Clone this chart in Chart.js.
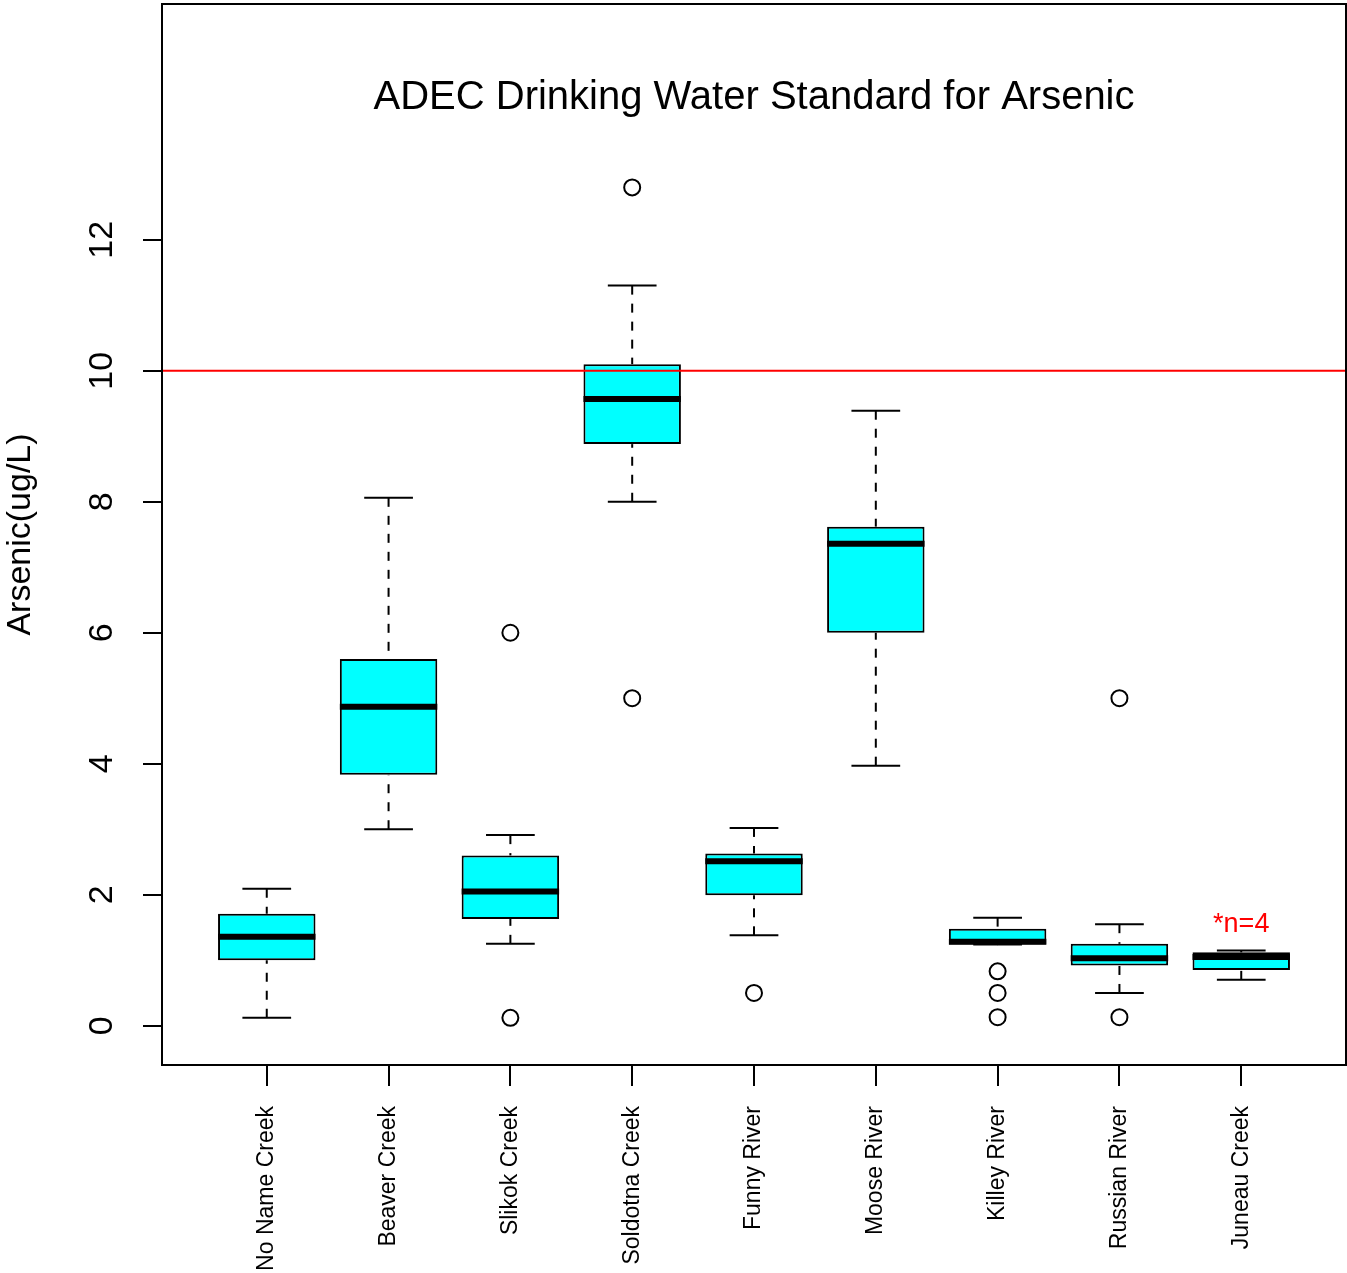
<!DOCTYPE html>
<html>
<head>
<meta charset="utf-8">
<title>ADEC Drinking Water Standard for Arsenic</title>
<script src="https://cdn.jsdelivr.net/npm/chart.js@4.4.0/dist/chart.umd.min.js"></script>
<style>
  html, body { margin: 0; padding: 0; background: #fff; }
  #wrap { width: 1347px; height: 1273px; }
</style>
</head>
<body>
<div id="wrap"><canvas id="boxChart" width="1347" height="1273"></canvas></div>
<script>
// sites, left to right
const sites = ['No Name Creek', 'Beaver Creek', 'Slikok Creek', 'Soldotna Creek', 'Funny River',
               'Moose River', 'Killey River', 'Russian River', 'Juneau Creek'];

// five-number summaries (ug/L)
const lowerWhisker = [0.12, 3.00, 1.25, 8.00, 1.38, 3.97, 1.24, 0.50, 0.70];
const q1           = [1.00, 3.83, 1.63, 8.88, 1.99, 6.00, 1.24, 0.92, 0.85];
const medians      = [1.36, 4.87, 2.05, 9.57, 2.51, 7.36, 1.28, 1.03, 1.05];
const q3           = [1.71, 5.60, 2.60, 10.10, 2.63, 7.62, 1.48, 1.25, 1.12];
const upperWhisker = [2.09, 8.06, 2.91, 11.30, 3.02, 9.39, 1.65, 1.55, 1.15];
const outliers     = [[], [], [0.12, 6.0], [12.8, 5.0], [0.5], [], [0.83, 0.5, 0.13], [0.13, 5.0], []];

const yTicks = [0, 2, 4, 6, 8, 10, 12];
const standard = 10;           // ADEC limit
const noteText = '*n=4';
const noteSite = 9;            // Juneau Creek

const FONT = "'Liberation Sans', Arial, Helvetica, sans-serif";
Chart.defaults.font.family = FONT;
Chart.defaults.color = '#000';

// R style axis ranges: x 0.5..9.5, y 0..15, each padded by 4%
const xMin = 0.14, xMax = 9.86;
const yMin = -0.6, yMax = 15.6;

const outlierPoints = [];
outliers.forEach((vals, i) => vals.forEach(v => outlierPoints.push({ x: i + 1, y: v })));

const boxplotExtras = {
    id: 'boxplotExtras',
    afterDatasetsDraw(chart) {
        const { ctx, scales: { x, y } } = chart;
        const boxes = chart.getDatasetMeta(2).data;
        ctx.save();
        ctx.strokeStyle = '#000';
        sites.forEach((site, i) => {
            const cx = x.getPixelForValue(i + 1);
            const capL = x.getPixelForValue(i + 1 - 0.2);
            const capR = x.getPixelForValue(i + 1 + 0.2);

            // dashed whiskers, from the whisker end to the box
            ctx.lineWidth = 2;
            ctx.setLineDash([9, 9]);
            [[lowerWhisker[i], q1[i]], [upperWhisker[i], q3[i]]].forEach(([from, to]) => {
                ctx.beginPath();
                ctx.moveTo(cx, y.getPixelForValue(from));
                ctx.lineTo(cx, y.getPixelForValue(to));
                ctx.stroke();
            });
            ctx.setLineDash([]);

            // staples
            [lowerWhisker[i], upperWhisker[i]].forEach(v => {
                const py = y.getPixelForValue(v);
                ctx.beginPath();
                ctx.moveTo(capL, py);
                ctx.lineTo(capR, py);
                ctx.stroke();
            });

            // median
            const bar = boxes[i];
            const my = y.getPixelForValue(medians[i]);
            ctx.lineWidth = 6;
            ctx.beginPath();
            ctx.moveTo(bar.x - bar.width / 2, my);
            ctx.lineTo(bar.x + bar.width / 2, my);
            ctx.stroke();
        });
        ctx.restore();
    },
    afterDraw(chart) {
        const { ctx, chartArea: a, scales: { x, y } } = chart;
        ctx.save();
        // plot frame
        ctx.strokeStyle = '#000';
        ctx.lineWidth = 2;
        ctx.strokeRect(a.left, a.top, a.right - a.left, a.bottom - a.top);

        // title inside the frame
        ctx.fillStyle = '#000';
        ctx.font = '40px ' + FONT;
        ctx.textAlign = 'center';
        ctx.textBaseline = 'middle';
        ctx.fillText('ADEC Drinking Water Standard for Arsenic', (a.left + a.right) / 2, y.getPixelForValue(14.17));

        // sample size note
        ctx.fillStyle = '#ff0000';
        ctx.font = '27px ' + FONT;
        ctx.fillText(noteText, x.getPixelForValue(noteSite), y.getPixelForValue(1.55));
        ctx.restore();
    }
};

new Chart(document.getElementById('boxChart'), {
    type: 'bar',
    data: {
        datasets: [
            {
                type: 'line',
                label: 'Standard',
                data: [{ x: xMin, y: standard }, { x: xMax, y: standard }],
                borderColor: '#ff0000',
                borderWidth: 2,
                pointRadius: 0,
                order: 0
            },
            {
                type: 'scatter',
                label: 'Outliers',
                data: outlierPoints,
                pointRadius: 8,
                pointBorderWidth: 2,
                pointBorderColor: '#000',
                pointBackgroundColor: 'rgba(0,0,0,0)',
                order: 1
            },
            {
                type: 'bar',
                label: 'IQR',
                data: sites.map((s, i) => ({ x: i + 1, y: [q1[i], q3[i]] })),
                backgroundColor: '#00ffff',
                borderColor: '#000',
                borderWidth: 2,
                borderSkipped: false,
                categoryPercentage: 0.8,
                barPercentage: 1.0,
                order: 2
            }
        ]
    },
    plugins: [boxplotExtras],
    options: {
        responsive: false,
        animation: false,
        events: [],
        layout: { autoPadding: false, padding: { top: 4, right: 1, left: 0, bottom: 0 } },
        plugins: {
            legend: { display: false },
            tooltip: { enabled: false }
        },
        scales: {
            x: {
                type: 'linear',
                min: xMin,
                max: xMax,
                offset: false,
                afterBuildTicks: s => { s.ticks = sites.map((_, i) => ({ value: i + 1 })); },
                afterFit: s => { s.height = 208; s.paddingLeft = 0; s.paddingRight = 0; },
                grid: { drawOnChartArea: false, offset: false, tickLength: 21, color: '#000', lineWidth: 2 },
                border: { display: false },
                ticks: {
                    autoSkip: false,
                    minRotation: 90,
                    maxRotation: 90,
                    padding: 20,
                    color: '#000',
                    font: { size: 23 },
                    callback: v => sites[v - 1]
                }
            },
            y: {
                type: 'linear',
                min: yMin,
                max: yMax,
                afterBuildTicks: s => { s.ticks = yTicks.map(v => ({ value: v })); },
                afterFit: s => { s.width = 162; s.paddingTop = 0; s.paddingBottom = 0; },
                grid: { drawOnChartArea: false, tickLength: 19, color: '#000', lineWidth: 2 },
                border: { display: false },
                ticks: {
                    minRotation: 90,
                    maxRotation: 90,
                    crossAlign: 'center',
                    padding: 21,
                    color: '#000',
                    font: { size: 34 }
                },
                title: {
                    display: true,
                    text: 'Arsenic(ug/L)',
                    color: '#000',
                    font: { size: 34 },
                    padding: 0
                }
            }
        }
    }
});
</script>
</body>
</html>
